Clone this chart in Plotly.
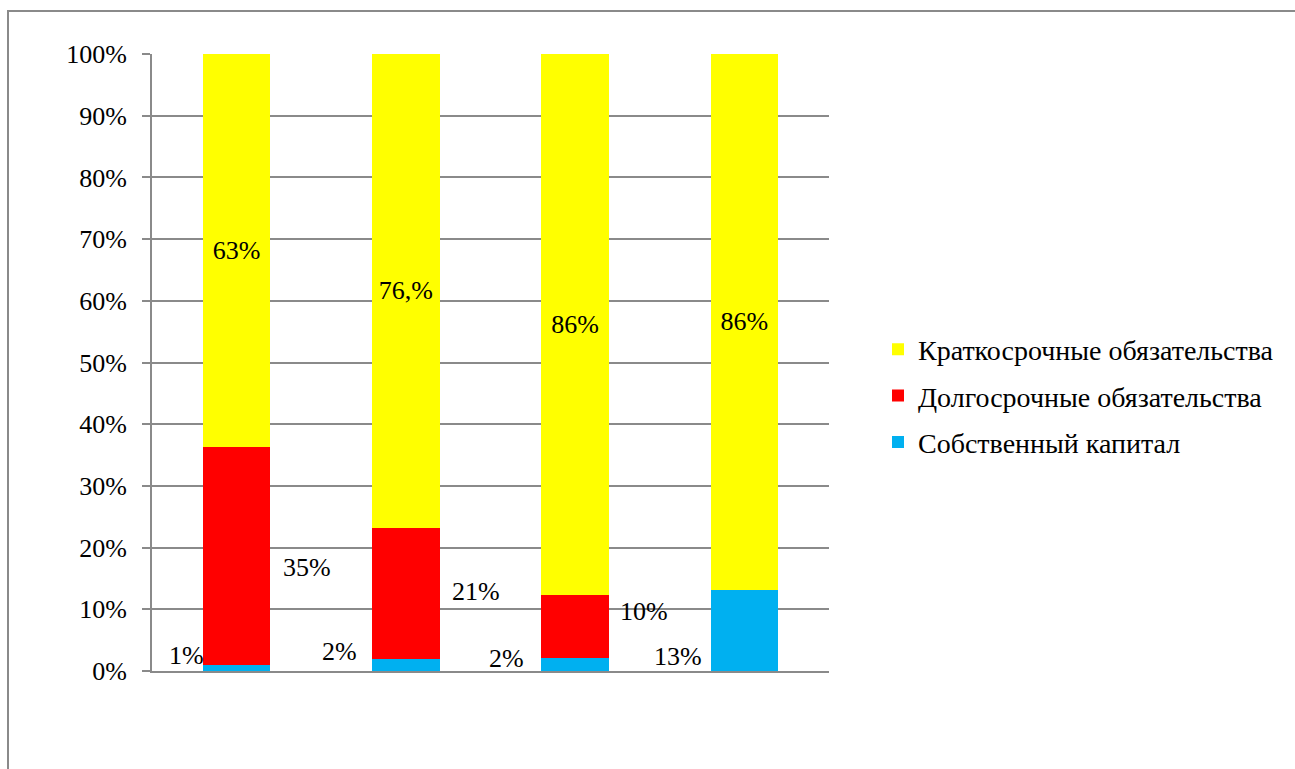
import numpy as np
import plotly.graph_objects as go

# Capital structure by period (shares, %)
periods = ["1", "2", "3", "4"]
equity = [1, 2, 2, 13]
long_term = [35, 21, 10, 0]
short_term = [63, 76, 86, 86]

equity_labels = ["1%", "2%", "2%", "13%"]
long_term_labels = ["35%", "21%", "10%", ""]
short_term_labels = ["63%", "76,%", "86%", "86%"]

series_names = ["Собственный капитал", "Долгосрочные обязательства", "Краткосрочные обязательства"]
series_colors = ["#00B0F0", "#FF0000", "#FFFF00"]

W, H = 1295, 769
L, R, T, B = 152, W - 829, 54, H - 671
PW, PH = W - L - R, H - T - B

FONT = "Liberation Serif"
FS = 26
LEGEND_FS = 28
GRID = "#8a8a8a"


def px_x(px):
    return (px - L) / PW


def px_y(py):
    return (H - B - py) / PH


def serif(size=FS):
    return dict(family=FONT, size=size, color="black")


fig = go.Figure()

fig.add_trace(go.Bar(
    x=periods, y=equity, name=series_names[0], legendgroup="eq", legendrank=3,
    marker=dict(color=series_colors[0], line=dict(width=0)),
))
fig.add_trace(go.Bar(
    x=periods, y=long_term, name=series_names[1], legendgroup="lt", legendrank=2,
    marker=dict(color=series_colors[1], line=dict(width=0)),
))
fig.add_trace(go.Bar(
    x=periods, y=short_term, name=series_names[2], legendgroup="st", legendrank=1,
    marker=dict(color=series_colors[2], line=dict(width=0)),
    text=short_term_labels, texttemplate="%{text}",
    textposition="inside", insidetextanchor="middle", textangle=0,
    insidetextfont=serif(),
))

# normalised stack positions for the side labels
tot = np.array(equity) + np.array(long_term) + np.array(short_term)
eq_pct = np.array(equity) / tot * 100
lt_pct = np.array(long_term) / tot * 100
lt_mid = eq_pct + lt_pct / 2

eq_shift = [(-50, 16), (-66, 20), (-69, 13), (-66, 15)]
lt_shift = [(70, -12), (70, 2), (69, 15)]

annotations = []
for i, p in enumerate(periods):
    dx, dy = eq_shift[i]
    annotations.append(dict(
        x=i, y=0, xref="x", yref="y", text=equity_labels[i], showarrow=False,
        xshift=dx, yshift=dy, font=serif(),
    ))
    if long_term[i] > 0:
        dx, dy = lt_shift[i]
        annotations.append(dict(
            x=i, y=lt_mid[i], xref="x", yref="y", text=long_term_labels[i],
            showarrow=False, xshift=dx, yshift=dy, font=serif(),
        ))

fig.update_layout(
    width=W, height=H,
    margin=dict(l=L, r=R, t=T, b=B, autoexpand=False),
    paper_bgcolor="white", plot_bgcolor="white",
    barmode="stack", barnorm="percent", bargap=0.6,
    font=serif(),
    showlegend=True,
    legend=dict(
        x=px_x(878), xanchor="left", y=px_y(396), yanchor="middle",
        traceorder="grouped", tracegroupgap=7,
        font=serif(LEGEND_FS),
        itemwidth=30, bgcolor="rgba(0,0,0,0)",
    ),
    annotations=annotations,
    shapes=[dict(
        type="rect", xref="paper", yref="paper",
        x0=px_x(8), x1=px_x(1310), y0=px_y(790), y1=px_y(11),
        line=dict(color=GRID, width=2), fillcolor="rgba(0,0,0,0)", layer="below",
    )],
)

fig.update_xaxes(
    type="category", range=[-0.5, len(periods) - 0.5],
    showticklabels=False, ticks="", showgrid=False,
    showline=True, linecolor=GRID, linewidth=2, zeroline=False,
)
fig.update_yaxes(
    range=[0, 100], dtick=10, ticksuffix="%",
    showgrid=True, gridcolor=GRID, gridwidth=2, zeroline=False,
    showline=True, linecolor=GRID, linewidth=2,
    ticks="outside", ticklen=8, tickwidth=2, tickcolor=GRID,
    ticklabelstandoff=10,
    tickfont=serif(),
)

fig.write_html("out.html")
